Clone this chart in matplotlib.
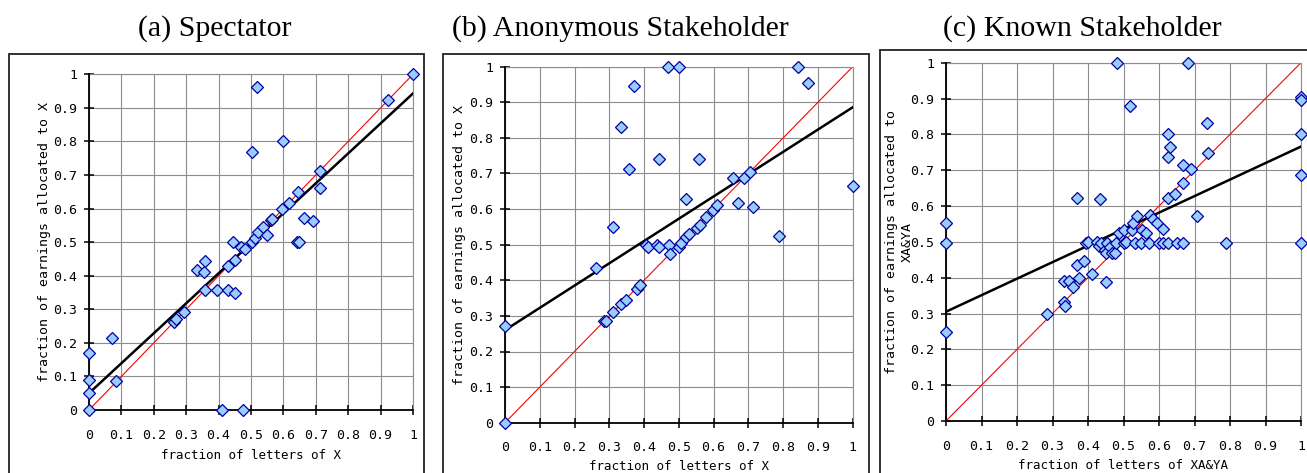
import matplotlib
matplotlib.use("Agg")
import matplotlib.pyplot as plt
from matplotlib.patches import Rectangle
import numpy as np

# ---------------- data ----------------
titles = ["(a) Spectator", "(b) Anonymous Stakeholder", "(c) Known Stakeholder"]
xlabels = ["fraction of letters of X", "fraction of letters of X", "fraction of letters of XA&YA"]
ylabels = ["fraction of earnings allocated to X", "fraction of earnings allocated to X",
           "fraction of earnings allocated to\nXA&YA"]

a_x = [0, 0, 0, 0, 0.072, 0.082, 0.262, 0.27, 0.294, 0.332, 0.355, 0.358, 0.358, 0.394,
       0.409, 0.428, 0.451, 0.428, 0.451, 0.444, 0.469, 0.483, 0.476, 0.502, 0.517, 0.504,
       0.511, 0.522, 0.537, 0.548, 0.563, 0.566, 0.599, 0.597, 0.618, 0.645, 0.643, 0.648,
       0.664, 0.69, 0.714, 0.714, 0.923, 1.0]
a_y = [0, 0.05, 0.09, 0.17, 0.215, 0.085, 0.263, 0.27, 0.292, 0.417, 0.41, 0.445, 0.357, 0.357,
       0, 0.357, 0.348, 0.43, 0.448, 0.499, 0.487, 0.479, 0, 0.77, 0.962, 0.499,
       0.511, 0.53, 0.545, 0.52, 0.566, 0.57, 0.8, 0.6, 0.618, 0.648, 0.499, 0.499,
       0.571, 0.563, 0.713, 0.66, 0.922, 1.0]

b_x = [0, 0, 0.262, 0.286, 0.29, 0.31, 0.312, 0.333, 0.333, 0.348, 0.358, 0.37, 0.379, 0.389,
       0.406, 0.412, 0.436, 0.442, 0.444, 0.468, 0.473, 0.475, 0.5, 0.501, 0.505, 0.521,
       0.522, 0.53, 0.551, 0.559, 0.561, 0.578, 0.599, 0.611, 0.655, 0.669, 0.688, 0.705,
       0.712, 0.789, 0.842, 0.871, 1.0]
b_y = [0, 0.2715, 0.435, 0.287, 0.285, 0.55, 0.31, 0.831, 0.333, 0.346, 0.712, 0.946, 0.375, 0.387,
       0.499, 0.494, 0.499, 0.494, 0.74, 1.0, 0.499, 0.474, 1.0, 0.494, 0.504, 0.628,
       0.522, 0.529, 0.546, 0.74, 0.555, 0.579, 0.597, 0.611, 0.688, 0.618, 0.686, 0.705,
       0.605, 0.524, 1.0, 0.953, 0.665]

c_x = [0, 0, 0, 0.285, 0.331, 0.331, 0.334, 0.347, 0.359, 0.368, 0.37, 0.376, 0.389, 0.394,
       0.399, 0.412, 0.424, 0.43, 0.434, 0.438, 0.448, 0.451, 0.451, 0.454, 0.462, 0.467,
       0.476, 0.479, 0.483, 0.486, 0.5, 0.501, 0.507, 0.518, 0.523, 0.528, 0.533, 0.537,
       0.551, 0.548, 0.563, 0.573, 0.575, 0.584, 0.595, 0.599, 0.612, 0.612, 0.624, 0.626,
       0.626, 0.626, 0.631, 0.645, 0.65, 0.667, 0.669, 0.669, 0.683, 0.689, 0.708, 0.734,
       0.739, 0.788, 1.0, 1.0, 1.0, 1.0, 1.0]
c_y = [0.554, 0.498, 0.249, 0.298, 0.392, 0.333, 0.322, 0.392, 0.373, 0.435, 0.623, 0.398, 0.447, 0.498,
       0.5, 0.41, 0.5, 0.488, 0.62, 0.498, 0.477, 0.389, 0.468, 0.498, 0.487, 0.468,
       0.47, 0.496, 1.0, 0.524, 0.498, 0.533, 0.5, 0.879, 0.533, 0.552, 0.498, 0.572,
       0.533, 0.498, 0.526, 0.498, 0.575, 0.563, 0.552, 0.498, 0.536, 0.498, 0.498, 0.621,
       0.736, 0.8, 0.766, 0.633, 0.498, 0.665, 0.714, 0.498, 1.0, 0.703, 0.572, 0.833,
       0.749, 0.498, 0.905, 0.895, 0.8, 0.687, 0.498]

trend_x = [0.0, 1.0]
trend_a = [0.05, 0.943]
trend_b = [0.26, 0.886]
trend_c = [0.305, 0.766]
diag = [0.0, 1.0]

ticks = [0, 0.1, 0.2, 0.3, 0.4, 0.5, 0.6, 0.7, 0.8, 0.9, 1]
tick_labels = ["0", "0.1", "0.2", "0.3", "0.4", "0.5", "0.6", "0.7", "0.8", "0.9", "1"]

# ---------------- layout ----------------
W, H = 1307, 473
fig = plt.figure(figsize=(W / 100, H / 100), dpi=100)

def px_axes(x0, x1, ytop, ybot):
    return [x0 / W, (H - ybot) / H, (x1 - x0) / W, (ybot - ytop) / H]

axes_px = [(89, 413, 74.3, 410), (505, 852.7, 66.7, 422.7), (946, 1301, 62.7, 421)]
boxes_px = [(8.5, 424, 54), (443, 869, 54), (880, 1320, 50)]
title_cx = [214.5, 620, 1082]
ylab_x = [-0.136, -0.132, -0.131]
xlab_y = [-0.137, -0.122, -0.123]

mono = "DejaVu Sans Mono"
fs = 9.5

for (bx0, bx1, bt) in boxes_px:
    fig.add_artist(Rectangle((bx0 / W, -0.05), (bx1 - bx0) / W, (H - bt) / H + 0.05,
                             transform=fig.transFigure, fill=False,
                             edgecolor="#222222", linewidth=1.3))

datasets = [(a_x, a_y, trend_a), (b_x, b_y, trend_b), (c_x, c_y, trend_c)]

for i, ((xs, ys, tr), apx) in enumerate(zip(datasets, axes_px)):
    ax = fig.add_axes(px_axes(*apx))
    ax.set_xlim(0, 1)
    ax.set_ylim(0, 1)
    ax.set_xticks(ticks)
    ax.set_yticks(ticks)
    ax.set_xticklabels(tick_labels, fontfamily=mono, fontsize=fs)
    ax.set_yticklabels(tick_labels, fontfamily=mono, fontsize=fs)
    ax.grid(True, color="#8c8c8c", linewidth=0.8)
    ax.set_axisbelow(True)
    for s in ["top", "right"]:
        ax.spines[s].set_color("#8c8c8c")
        ax.spines[s].set_linewidth(0.8)
    for s in ["left", "bottom"]:
        ax.spines[s].set_color("black")
        ax.spines[s].set_linewidth(1.3)
        ax.spines[s].set_zorder(3)
    ax.tick_params(axis="both", direction="inout", length=7, width=1.1, color="black")
    ax.tick_params(axis="x", pad=10)
    ax.tick_params(axis="y", pad=5)

    ax.plot(diag, diag, color="red", linewidth=0.8, zorder=2)
    ax.plot(trend_x, tr, color="black", linewidth=1.8, zorder=3)
    ax.plot(xs, ys, linestyle="none", marker="D", markersize=6.2,
            markerfacecolor="#99ccff", markeredgecolor="#000099",
            markeredgewidth=0.9, zorder=4, clip_on=False)

    ax.set_xlabel(xlabels[i], fontfamily=mono, fontsize=9)
    ax.xaxis.label.set_va("center")
    ax.xaxis.set_label_coords(0.5, xlab_y[i])
    ax.set_ylabel(ylabels[i], fontfamily=mono, fontsize=fs, linespacing=1.25)
    ax.yaxis.label.set_va("center")
    ax.yaxis.set_label_coords(ylab_x[i], 0.5)

    fig.text(title_cx[i] / W, (H - 36) / H, titles[i], ha="center", va="baseline",
             fontfamily="Liberation Serif", fontsize=21.5)

fig.savefig("out.png", dpi=100)
